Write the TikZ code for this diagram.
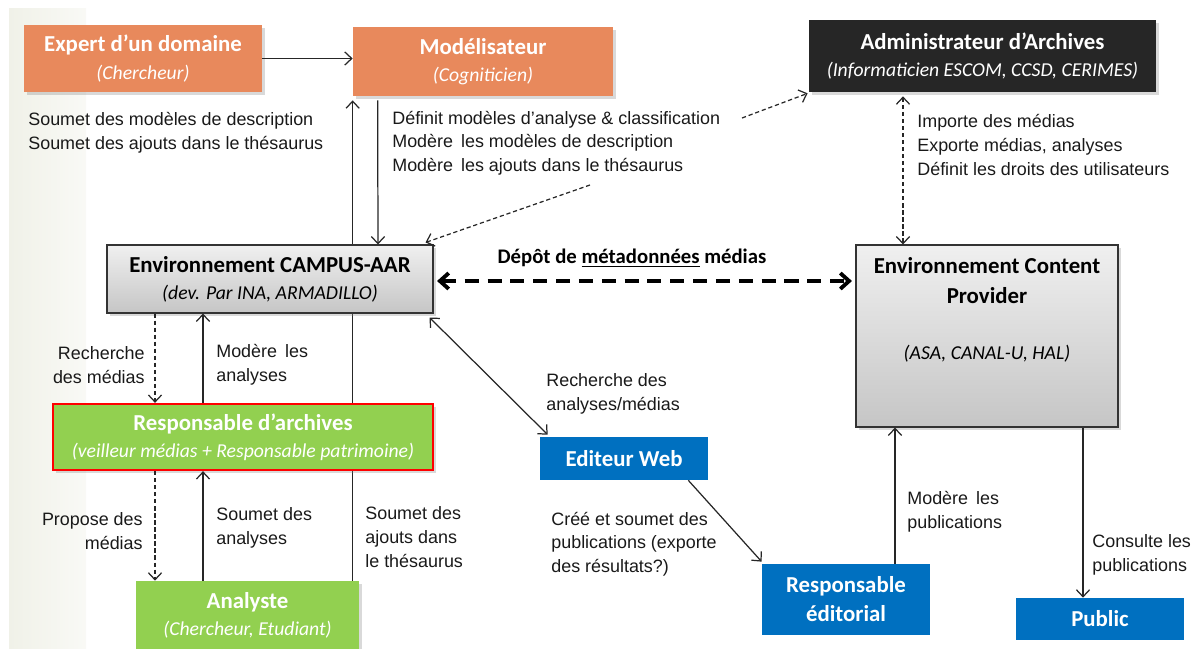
\documentclass[tikz,border=0pt]{standalone}
\usepackage{fontspec}
\setmainfont{Carlito}
\newfontfamily\arialfont{Liberation Sans}
\usetikzlibrary{arrows.meta,calc,shadows,backgrounds}
\newdimen\pxl \pxl=0.02cm
\definecolor{cOrange}{RGB}{232,137,92}
\definecolor{cDark}{RGB}{38,38,38}
\definecolor{cGreen}{RGB}{146,208,80}
\definecolor{cBlue}{RGB}{0,112,192}
\definecolor{cStripe}{RGB}{240,241,232}
\newcommand{\subtxt}[1]{{\fontsize{11.2}{15.5}\selectfont\mdseries\itshape #1}}
\tikzset{
	box/.style={align=center, inner sep=0pt, font=\fontsize{13}{15.5}\selectfont\bfseries},
	shad/.style={drop shadow={shadow xshift=1.5pt, shadow yshift=-1.5pt, opacity=.3}},
	orangebox/.style={box, shad, fill=cOrange, text=white},
	darkbox/.style={box, shad, fill=cDark, text=white},
	graybox/.style={box, shad, draw=black!80, line width=0.6pt, top color=gray!12, bottom color=gray!45, text=black},
	greenbox/.style={box, shad, fill=cGreen, text=white},
	bluebox/.style={box, fill=cBlue, text=white},
	lbl/.style={font=\arialfont\fontsize{10.2}{13.5}\selectfont, inner sep=0pt, text=black!90},
	fleche/.style={->, line width=0.7pt, black!85},
	pointille/.style={fleche, dash pattern=on 2.4pt off 1.6pt}
}
\begin{document}
\begin{tikzpicture}[x=0.02cm, y=-0.02cm, >={Straight Barb[length=4pt,width=7.5pt]}]
	\useasboundingbox (0,0) rectangle (1200,649);
	%%% Fond
	\fill[left color=cStripe, right color=cStripe!40] (9,8) rectangle (86,649);
	%%% Boites
	\node[orangebox, minimum width=238\pxl, minimum height=67\pxl] (expert) at (143,58.5) {Expert d’un domaine\\\subtxt{(Chercheur)}};
	\node[orangebox, minimum width=260\pxl, minimum height=69\pxl] (modelis) at (483,61.5) {Modélisateur\\\subtxt{(Cogniticien)}};
	\node[darkbox, minimum width=347\pxl, minimum height=72\pxl] (admin) at (982.5,56) {Administrateur d’Archives\\\subtxt{(Informaticien ESCOM, CCSD, CERIMES)}};
	\node[graybox, minimum width=326\pxl, minimum height=68\pxl] (campus) at (270,279) {Environnement CAMPUS-AAR\\\subtxt{(dev. Par INA, ARMADILLO)}};
	\node[graybox, minimum width=262\pxl, minimum height=182\pxl] (cp) at (987,336) {};
	\node[box, anchor=north] (cptitre) at (987,257) {Environnement Content\\[1.5pt]Provider};
	\node[box] (cpsous) at (987,354) {\subtxt{(ASA, CANAL-U, HAL)}};
	\node[greenbox, draw=red, line width=1.3pt, minimum width=380\pxl, minimum height=66\pxl] (resp) at (243,437) {Responsable d’archives\\\subtxt{(veilleur médias + Responsable patrimoine)}};
	\node[bluebox, minimum width=168\pxl, minimum height=43\pxl] (editeur) at (624,458.5) {Editeur Web};
	\node[bluebox, minimum width=168\pxl, minimum height=71\pxl] (resped) at (846,599.5) {Responsable\\[1pt]éditorial};
	\node[bluebox, minimum width=168\pxl, minimum height=42\pxl] (public) at (1100,619) {Public};
	\node[greenbox, minimum width=223\pxl, minimum height=68\pxl] (analyste) at (247.5,615) {Analyste\\\subtxt{(Chercheur, Etudiant)}};
	%%% Textes
	\node[lbl, anchor=west, align=left] (txtexpert) at (28,133) {Soumet des modèles de description\\Soumet des ajouts dans le thésaurus};
	\node[lbl, anchor=west, align=left] (txtmodelis) at (392,143) {Définit modèles d’analyse \& classification\\Modère\, les modèles de description\\Modère\, les ajouts dans le thésaurus};
	\node[lbl, anchor=west, align=left] (txtadmin) at (917,145) {Importe des médias\\Exporte médias, analyses\\Définit les droits des utilisateurs};
	\node[font=\fontsize{11.8}{13}\selectfont\bfseries, inner sep=0pt] (depot) at (632,258) {Dépôt de \underline{métadonnées} médias};
	\node[lbl, anchor=east, align=right] (txtrech) at (145,365) {Recherche\\des médias};
	\node[lbl, anchor=west, align=left] (txtmodan) at (216,365) {Modère\, les\\analyses};
	\node[lbl, anchor=east, align=right] (txtprop) at (143,531) {Propose des\\médias};
	\node[lbl, anchor=west, align=left] (txtsouan) at (216,528) {Soumet des\\analyses};
	\node[lbl, anchor=west, align=left] (txtsouaj) at (365,537) {Soumet des\\ajouts dans\\le thésaurus};
	\node[lbl, anchor=west, align=left] (txtrechan) at (546,394) {Recherche des\\analyses/médias};
	\node[lbl, anchor=west, align=left] (txtcree) at (551,544) {Créé et soumet des\\publications (exporte\\des résultats?)};
	\node[lbl, anchor=west, align=left] (txtmodpub) at (907,512) {Modère\, les\\publications};
	\node[lbl, anchor=west, align=left] (txtcons) at (1092,555) {Consulte les\\publications};
	%%% Points libres
	\coordinate (m1) at (590,185);
	\coordinate (m2) at (742,118);
	%%% Connecteurs haut
	\draw[fleche] (expert.east) -- (expert.east -| modelis.west);
	\begin{pgfonlayer}{background}
		\draw[fleche] (analyste.north -| modelis.south west) -- ($(modelis.south west)+(0,4)$);
	\end{pgfonlayer}
	\draw[fleche] ($(modelis.south west)+(25,4)$) -- (campus.north -| 378,0);
	\draw[pointille] (m1) -- ($(campus.north east)+(-8,-2)$);
	\draw[pointille] (m2) -- ($(admin.south west)+(-1,1)$);
	\draw[pointille, <->] ($(admin.south)+(-79.5,4)$) -- (cp.north -| 903,0);
	\draw[->, line width=2.2pt, dash pattern=on 8pt off 5pt, >={Straight Barb[length=5pt,width=9pt]}, shorten <=2pt, shorten >=2pt, <->] (campus.east |- 0,281) -- (cp.west |- 0,281);
	%%% Connecteurs milieu
	\draw[fleche, <->] ($(campus.south east)+(-4,4)$) -- ($(editeur.north west)+(8,-2)$);
	\draw[pointille] (campus.south -| 155,0) -- (resp.north -| 155,0);
	\draw[fleche] (resp.north -| 203,0) -- (campus.south -| 203,0);
	\draw[pointille] (resp.south -| 155,0) -- (analyste.north -| 155,0);
	\draw[fleche] (analyste.north -| 203,0) -- (resp.south -| 203,0);
	%%% Connecteurs bas
	\draw[fleche] ($(editeur.south east)+(-20,0)$) -- ($(resped.north west)+(0,-2)$);
	\draw[fleche] (resped.north -| 895,0) -- (cp.south -| 895,0);
	\draw[fleche] (cp.south -| 1083,0) -- (public.north -| 1083,0);
\end{tikzpicture}
\end{document}
